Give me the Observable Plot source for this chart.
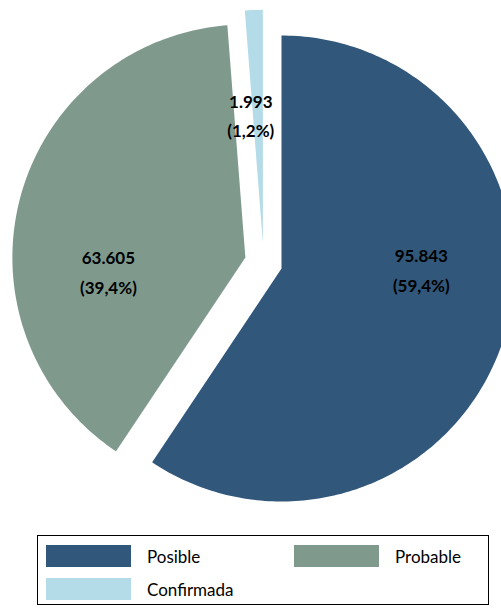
<!DOCTYPE html>
<html>
<head>
<meta charset="utf-8">
<script src="https://cdn.jsdelivr.net/npm/d3@7"></script>
<script src="https://cdn.jsdelivr.net/npm/@observablehq/plot@0.6"></script>
<style>
  body { margin: 0; background: #fff; font-family: Lato, "Open Sans", sans-serif; }
  #chart { width: 501px; }
  .legend { position: absolute; left: 37px; top: 535px; width: 452px; height: 70px; border: 1px solid #000; box-sizing: border-box; font-size: 17px; }
  .item { position: absolute; display: flex; align-items: center; }
  .sw { width: 85px; height: 22px; margin-right: 16px; }
</style>
</head>
<body>
<div id="chart"></div>
<div class="legend" id="legend"></div>
<script>
const categories = ["Posible", "Probable", "Confirmada"];
const counts = [95843, 63605, 1993];
const countLabels = ["95.843", "63.605", "1.993"];
const pctLabels = ["(59,4%)", "(39,4%)", "(1,2%)"];
const colors = ["#31577b", "#7f9a8c", "#b3dce8"];

// explode offsets in radius units (x right, y up)
const offsets = [[0, 0], [-0.155, 0.047], [-0.08, 0.11]];
// label placement: radius fraction, angle nudge (radians)
const labelPos = [[0.6, -0.3], [0.59, -0.34], [0.56, -0.054]];

const total = d3.sum(counts);
const poly = [];
const labels = [];
let start = 0;
categories.forEach((name, i) => {
  const a0 = start, a1 = start + counts[i] / total * 2 * Math.PI;
  start = a1;
  const [ox, oy] = offsets[i];
  poly.push({name, x: ox, y: oy});
  const n = Math.max(4, Math.ceil((a1 - a0) * 60));
  for (let k = 0; k <= n; k++) {
    const a = a0 + (a1 - a0) * k / n;
    poly.push({name, x: ox + Math.sin(a), y: oy + Math.cos(a)});
  }
  poly.push({name, x: ox, y: oy});
  const am = (a0 + a1) / 2 + labelPos[i][1], r = labelPos[i][0];
  labels.push({text: countLabels[i] + "\n" + pctLabels[i], x: ox + r * Math.sin(am), y: oy + r * Math.cos(am)});
});

const R = 233;
const chart = Plot.plot({
  width: 501,
  height: 525,
  margin: 0,
  x: {domain: [-281 / R, 220 / R], axis: null},
  y: {domain: [(268 - 525) / R, 268 / R], axis: null},
  color: {domain: categories, range: colors},
  marks: [
    Plot.line(poly, {x: "x", y: "y", z: "name", fill: "name", stroke: null, curve: "linear"}),
    Plot.text(labels, {x: "x", y: "y", text: "text", fontSize: 17, fontWeight: "bold", fill: "#000", lineHeight: 1.75})
  ],
  style: {fontFamily: "Lato, 'Open Sans', sans-serif"}
});
document.getElementById("chart").append(chart);

const legend = document.getElementById("legend");
const spots = [[8, 9], [256, 9], [8, 42]];
categories.forEach((c, i) => {
  const d = document.createElement("div");
  d.className = "item";
  d.style.left = spots[i][0] + "px";
  d.style.top = spots[i][1] + "px";
  d.innerHTML = `<div class="sw" style="background:${colors[i]}"></div><span>${c}</span>`;
  legend.append(d);
});
</script>
</body>
</html>
